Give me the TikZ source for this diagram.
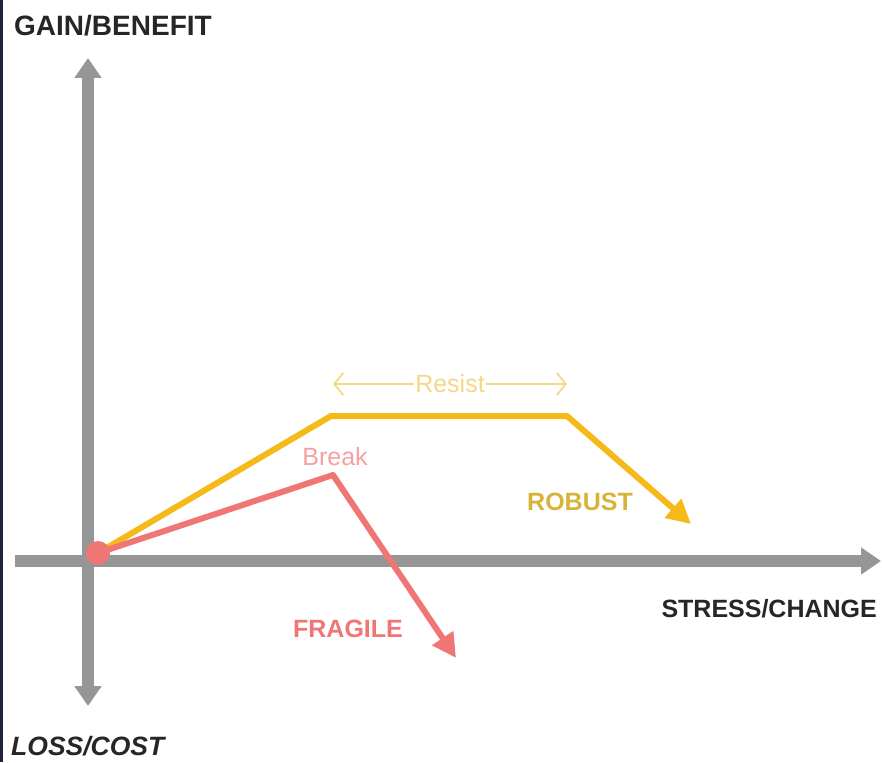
\documentclass[tikz,border=0pt]{standalone}
\usepackage{fontspec}
\setmainfont{Liberation Sans}
\usetikzlibrary{arrows.meta}
\definecolor{axisgray}{RGB}{150,150,150}
\definecolor{robustorange}{RGB}{245,185,25}
\definecolor{fragilered}{RGB}{240,118,118}
\definecolor{resistyellow}{RGB}{246,215,135}
\definecolor{breakpink}{RGB}{246,160,160}
\definecolor{robusttext}{RGB}{215,180,55}
\definecolor{edgenavy}{RGB}{30,35,60}

\begin{document}
\begin{tikzpicture}[x=1pt, y=-1pt,
  axis/.style={line width=12pt, axisgray},
  axislabel/.style={font=\bfseries\fontsize{28}{32}\selectfont, text=black!85, inner sep=0pt},
  curvelabel/.style={font=\bfseries\fontsize{25}{29}\selectfont, inner sep=0pt},
  marklabel/.style={font=\fontsize{25}{29}\selectfont, inner sep=1pt}]
\useasboundingbox (0,0) rectangle (882,762);
\draw[line width=3pt, edgenavy] (1.5,0) -- (1.5,762);

% axes
\coordinate (ytop) at (88,58);
\coordinate (ybot) at (88,706);
\coordinate (xleft) at (15,561);
\coordinate (xright) at (881,561);
\draw[axis, {Triangle[width=26pt,length=20pt]}-{Triangle[width=26pt,length=20pt]}] (ybot) -- (ytop);
\draw[axis, -{Triangle[width=26pt,length=20pt]}] (xleft) -- (xright);

\node[axislabel, anchor=west] (gain) at (14,26) {GAIN/BENEFIT};
\node[axislabel, anchor=west, font=\bfseries\itshape\fontsize{26.5}{30}\selectfont] (loss) at (11,746) {LOSS/COST};
\node[axislabel, anchor=east, font=\bfseries\fontsize{25}{29}\selectfont] (stress) at (877,609) {STRESS/CHANGE};

% curves
\coordinate (start) at (98,553);
\coordinate (rup) at (331,416);
\coordinate (rdown) at (567,416);
\coordinate (rtip) at (691,524);
\coordinate (fpeak) at (333,475);
\coordinate (ftip) at (456,658);
\draw[line width=6pt, robustorange, line join=round, -{Triangle[width=24pt,length=24pt]}] (start) -- (rup) -- (rdown) -- (rtip);
\draw[line width=6pt, fragilered, line join=round, -{Triangle[width=24pt,length=24pt]}] (start) -- (fpeak) -- (ftip);
\fill[fragilered] (start) circle (12pt);

\node[curvelabel, text=robusttext] (robust) at (580,502) {ROBUST};
\node[curvelabel, text=fragilered] (fragile) at (348,629) {FRAGILE};
\node[marklabel, text=breakpink] (break) at (335,457) {Break};

% resist span
\coordinate (rleft) at (333,384);
\coordinate (rright) at (567,384);
\draw[line width=1.8pt, resistyellow, {Straight Barb[length=9pt,width=22pt]}-{Straight Barb[length=9pt,width=22pt]}] (rleft) -- (rright);
\node[marklabel, text=resistyellow, fill=white] (resist) at (450,384) {Resist};
\end{tikzpicture}
\end{document}
